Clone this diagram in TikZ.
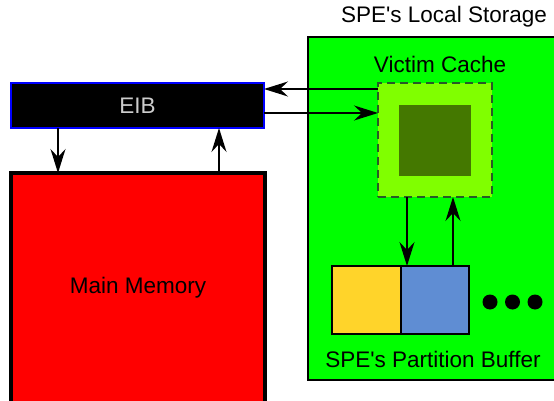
\documentclass[tikz,border=0pt]{standalone}
\usepackage{fontspec}
\setmainfont{Liberation Sans}[Ligatures=TeXOff]
\usetikzlibrary{arrows.meta}
\definecolor{lsgreen}{RGB}{0,255,0}
\definecolor{vcgreen}{RGB}{128,255,0}
\definecolor{vcdark}{RGB}{68,120,0}
\definecolor{vcedge}{RGB}{40,90,40}
\definecolor{bufyellow}{RGB}{255,212,42}
\definecolor{bufblue}{RGB}{95,141,211}
\definecolor{eibtext}{RGB}{205,205,205}
\tikzset{
  box/.style={draw,inner sep=0pt,outer sep=0pt},
  arr/.style={-{Stealth[length=24pt,width=15pt,inset=8pt]},line width=1.4pt},
  lbl/.style={font=\fontsize{22.5}{26}\selectfont,inner sep=0pt}
}
\begin{document}
\begin{tikzpicture}[x=1pt,y=-1pt]
                \useasboundingbox (0,0) rectangle (554,401);
                \fill[white] (0,0) rectangle (554,401);
                % main side
                \node[box,fill=black,draw=blue,line width=2pt,minimum width=253pt,minimum height=45pt,
                      lbl,text=eibtext] (eib) at (137.5,105.5) {EIB};
                \node[box,fill=red,line width=3.5pt,minimum width=254pt,minimum height=230pt,lbl] (mem) at (138,288) {Main Memory};
                % local storage
                \node[box,fill=lsgreen,line width=2pt,minimum width=250pt,minimum height=343pt] (ls) at (433,208.5) {};
                \node[lbl] (lstitle) at (444,17) {SPE's Local Storage};
                \node[lbl] (vctitle) at (440,64) {Victim Cache};
                \node[box,fill=vcgreen,draw=vcedge,line width=1.8pt,dash pattern=on 8pt off 5pt,minimum size=114pt] (vc) at (435,140) {};
                \node[box,fill=vcdark,draw=none,minimum width=72pt,minimum height=71pt] (vcin) at (435,140.5) {};
                \node[box,fill=bufyellow,line width=2.5pt,minimum width=69pt,minimum height=68pt] (bufa) at (366.5,300) {};
                \node[box,fill=bufblue,line width=2.5pt,minimum width=68pt,minimum height=68pt] (bufb) at (435,300) {};
                \node[lbl] (buftitle) at (433,359) {SPE's Partition Buffer};
                \foreach \i/\x in {1/490,2/512.5,3/535}
                    \fill (\x,302) circle (7.5pt) coordinate (dot\i);
                % connectors
                \draw[arr] ([yshift=-6pt]vc.north west) -- ([yshift=-6pt]vc.north west -| eib.east);
                \draw[arr] ([yshift=15pt]eib.south east) -- ([yshift=15pt]eib.south east -| vc.west);
                \draw[arr] ([xshift=47pt]eib.south west) -- ([xshift=47pt]eib.south west |- mem.north);
                \draw[arr] ([xshift=-46pt]mem.north east) -- ([xshift=-46pt]mem.north east |- eib.south);
                \draw[arr] ([xshift=-28pt]vc.south) -- ([xshift=-28pt]vc.south |- bufb.north);
                \draw[arr] ([xshift=18pt]bufb.north) -- ([xshift=18pt]bufb.north |- vc.south);
            \end{tikzpicture}
\end{document}
